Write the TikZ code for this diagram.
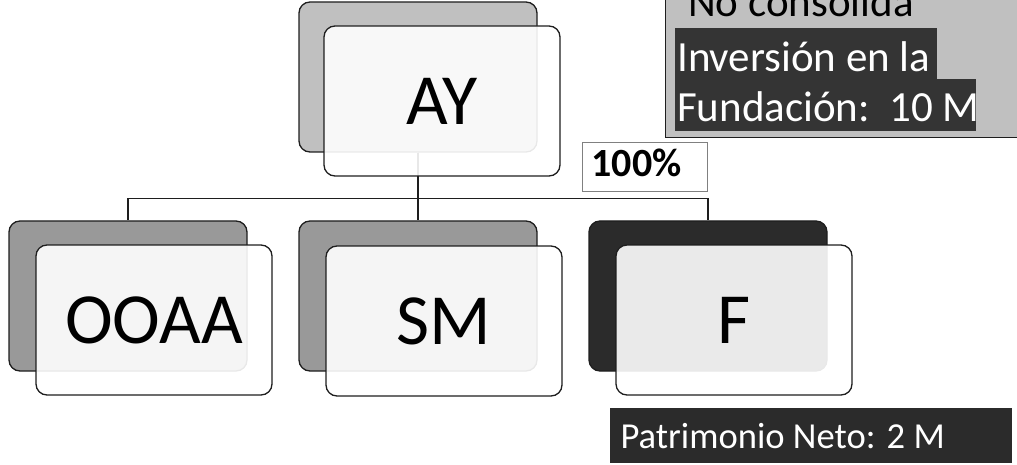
\documentclass[tikz,border=0pt]{standalone}
\usepackage{fontspec}
\setmainfont{Carlito}
\usetikzlibrary{calc, positioning}
\definecolor{grisc}{HTML}{C0C0C0}
\definecolor{grism}{HTML}{999999}
\definecolor{griso}{HTML}{2B2B2B}
\definecolor{resal}{HTML}{343434}
\definecolor{borde}{HTML}{1E1E1E}

\begin{document}
\begin{tikzpicture}[x=1pt, y=1pt, level distance=219pt,
            level 1/.style={sibling distance=290pt},
            edge from parent/.style={draw=borde, line width=1.2pt},
            edge from parent path={(\tikzparentnode.south) -- ++(0,-46) -| (\tikzchildnode.north)}]
        \tikzstyle{atras}=[rectangle, rounded corners=11pt, draw=borde, line width=1.3pt, minimum width=238pt, minimum height=150pt]
        \tikzstyle{frente}=[atras, minimum width=236pt, fill=white, fill opacity=.9, text opacity=1, font=\fontsize{72}{80}\selectfont]
        \tikzstyle{resalte}=[fill=resal, text=white, inner xsep=2pt, inner ysep=0pt, anchor=base west, font=\fontsize{43}{52}\selectfont]
        \useasboundingbox (0,0) rectangle (1017,-465);
        % caja gris de arriba
        \node[draw=borde, fill=grisc, line width=1.3pt, anchor=north west, minimum width=370pt, minimum height=150pt](nc) at (665,13) {};
        \node[anchor=base west, inner sep=0pt, font=\fontsize{43}{52}\selectfont](nocons) at (688,-17) {No consolida};
        \node[resalte, text height=44pt, text depth=7pt](inv) at (675,-72) {\makebox[258pt][l]{Inversión en la}};
        \node[resalte, text height=43pt, text depth=9pt](fund) at ($(inv.base west)+(0,-50)$) {\makebox[297pt][l]{Fundación:\ \ 10 M}};
        % arbol
        \node[atras, fill=grisc](0) at (418,-77) {}
        child {node[atras, fill=grism] {}}
        child {node[atras, fill=grism] {}}
        child {node[atras, fill=griso] {}};
        \node[frente](ay) at ($(0)+(24,-24)$) {AY};
        \node[frente](ooaa) at ($(0-1)+(26,-24)$) {OOAA};
        \node[frente](sm) at ($(0-2)+(26,-25)$) {SM};
        \node[frente](f) at ($(0-3)+(26,-24)$) {F};
        \node[draw=gray, line width=1pt, fill=white, anchor=base west, inner xsep=9pt, inner ysep=0pt, text height=34pt, text depth=15pt, font=\bfseries\fontsize{40}{42}\selectfont](pct) at ($(0-3)+(-126,119)$) {\makebox[107pt][l]{100\%}};
        \node[resalte, fill=griso, inner xsep=11pt, text height=41pt, text depth=14pt, font=\fontsize{36.6}{44}\selectfont](pn) at ($(f.south west)+(-6,-53)$) {\makebox[380pt][l]{Patrimonio Neto: 2 M}};
    \end{tikzpicture}
\end{document}
